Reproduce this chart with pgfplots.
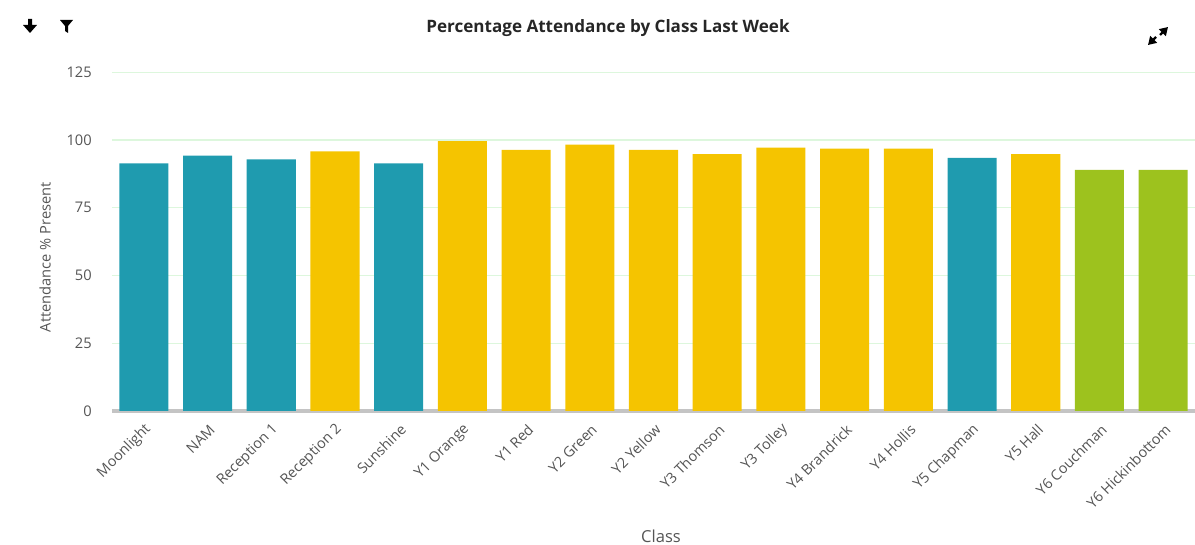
\documentclass[border=0pt]{standalone}
\usepackage{pgfplots}
\pgfplotsset{compat=1.18}
\usepackage{fontspec}
\setmainfont{Open Sans}
\usetikzlibrary{arrows.meta}
\definecolor{teal}{HTML}{1F9BAF}
\definecolor{gold}{HTML}{F5C400}
\definecolor{lime}{HTML}{9DC21E}
\definecolor{gridg}{HTML}{DDF7DD}
\definecolor{basegrey}{HTML}{C4C4C4}
\definecolor{txt}{HTML}{555555}
\begin{document}
\begin{tikzpicture}
\path[use as bounding box] (0,0) rectangle (896.25pt,408.75pt);
\begin{axis}[
  at={(84pt,100.5pt)}, anchor=south west,
  scale only axis, width=812.25pt, height=254pt,
  ybar, bar width=0.77, bar shift=0pt,
  xmin=-0.5, xmax=16.5, ymin=0, ymax=125,
  ytick={0,25,50,75,100,125},
  xtick={0,...,16},
  xticklabels={Moonlight,NAM,Reception 1,Reception 2,Sunshine,Y1 Orange,Y1 Red,Y2 Green,Y2 Yellow,Y3 Thomson,Y3 Tolley,Y4 Brandrick,Y4 Hollis,Y5 Chapman,Y5 Hall,Y6 Couchman,Y6 Hickinbottom},
  major tick length=0pt,
  axis line style={draw=none},
  ymajorgrids, grid style={color=gridg, line width=0.9pt},
  extra y ticks={0}, extra y tick labels={},
  extra y tick style={grid style={color=basegrey, line width=2.4pt}},
  /pgf/number format/assume math mode=true,
  yticklabel style={font=\fontsize{11}{13}\selectfont, text=txt, inner sep=0pt, xshift=-15pt},
  xticklabel style={font=\fontsize{10.8}{13}\selectfont, text=txt, rotate=45, anchor=east, inner sep=0pt, xshift=-6pt, yshift=-11pt},
  clip=false,
]
\addplot[fill=teal, draw=none] coordinates {(0,91.4) (1,94.3) (2,92.9) (4,91.4) (13,93.4)};
\addplot[fill=gold, draw=none] coordinates {(3,95.8) (5,99.6) (6,96.4) (7,98.3) (8,96.4) (9,94.8) (10,97.2) (11,96.8) (12,96.8) (14,94.8)};
\addplot[fill=lime, draw=none] coordinates {(15,89.0) (16,89.0)};
\end{axis}
\begin{scope}[shift={(0pt,408.75pt)}, x=0.75pt, y=-0.75pt]
\node[font=\bfseries\fontsize{12.8}{15}\selectfont, text=black!85] at (608,28) {Percentage Attendance by Class Last Week};
\node[font=\fontsize{11}{13}\selectfont, text=txt, rotate=90] at (45,257) {Attendance \% Present};
\node[font=\fontsize{12.4}{14}\selectfont, text=txt, inner sep=0pt, anchor=base] at (661,543) {Class};
\fill[black] (28,19)--(32,19)--(32,25)--(37,25)--(30,33)--(23,25)--(28,25)--cycle;
\fill[black] (60,20)--(73,20)--(68,26)--(68,33)--(65,31)--(65,26)--cycle;
\draw[line width=1.8pt, -{Triangle[length=6pt,width=7pt]}] (1156,37)--(1148,45);
\draw[line width=1.8pt, -{Triangle[length=6pt,width=7pt]}] (1160,35)--(1168,27);
\end{scope}
\end{tikzpicture}
\end{document}
